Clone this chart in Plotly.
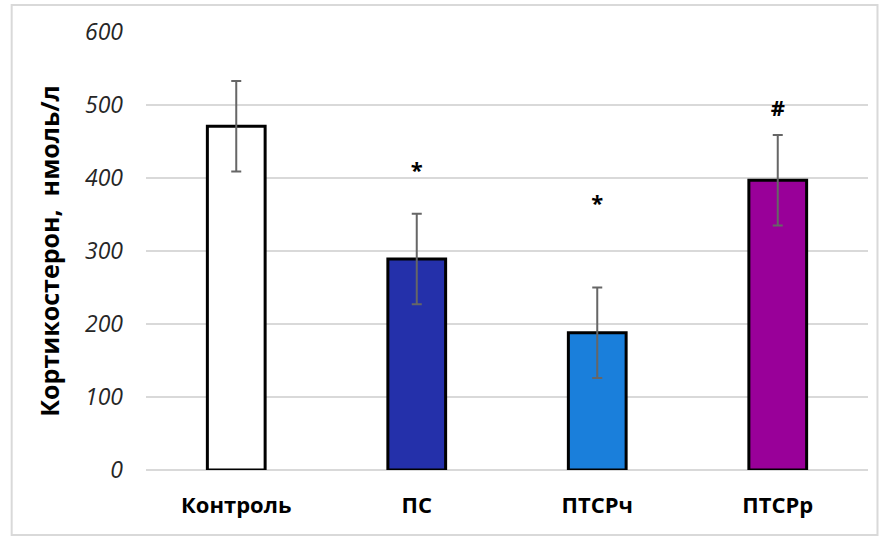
import plotly.graph_objects as go

# Corticosterone levels by group (nmol/L)
groups = ["Контроль", "ПС", "ПТСРч", "ПТСРр"]
means = [471, 289, 188, 397]
errors = [62, 62, 62, 62]
bar_colors = ["#FFFFFF", "#2430AA", "#1A7FDB", "#990099"]

# Significance marks and the heights at which they sit
marks = ["", "*", "*", "#"]
mark_levels = [None, 408, 362, 493]

y_ticks = [0, 100, 200, 300, 400, 500, 600]

fig = go.Figure()

fig.add_trace(go.Bar(
    x=groups,
    y=means,
    width=0.32,
    marker=dict(color=bar_colors, line=dict(color="#000000", width=3)),
    error_y=dict(type="data", array=errors, visible=True,
                 color="#666666", thickness=2, width=5),
    showlegend=False,
    hoverinfo="skip",
))

fig.add_trace(go.Scatter(
    x=[g for g, m in zip(groups, marks) if m],
    y=[v for v, m in zip(mark_levels, marks) if m],
    mode="text",
    text=[m for m in marks if m],
    textfont=dict(family="Open Sans", size=22, color="#000000", weight="bold"),
    textposition="middle center",
    showlegend=False,
    hoverinfo="skip",
))

fig.update_layout(
    width=883,
    height=536,
    margin=dict(l=145.5, r=14.5, t=32, b=66),
    paper_bgcolor="#FFFFFF",
    plot_bgcolor="#FFFFFF",
    bargap=0.68,
    xaxis=dict(
        showgrid=False,
        showline=False,
        zeroline=False,
        ticks="",
        tickfont=dict(family="Liberation Sans Narrow, Open Sans", size=22,
                      color="#000000", weight="bold"),
        ticklabelstandoff=20,
    ),
    yaxis=dict(
        range=[0, 600],
        tickvals=y_ticks,
        showgrid=True,
        gridcolor="#D9D9D9",
        gridwidth=2,
        zeroline=True,
        zerolinecolor="#D9D9D9",
        zerolinewidth=2,
        showline=False,
        ticks="",
        ticklabelstandoff=22,
        tickfont=dict(family="Open Sans", size=23, color="#262626",
                      style="italic"),
        title=dict(text="Кортикостерон,  нмоль/л",
                   font=dict(family="Open Sans", size=25, color="#000000",
                             weight="bold"),
                   standoff=18),
    ),
    shapes=[dict(
        type="rect", xref="paper", yref="paper",
        x0=-134.5 / 723, x1=1 + 9.5 / 723,
        y0=-65 / 438, y1=1 + 27 / 438,
        line=dict(color="#D9D9D9", width=2),
        fillcolor="rgba(0,0,0,0)",
        layer="below",
    )],
)

fig.write_html("out.html")
